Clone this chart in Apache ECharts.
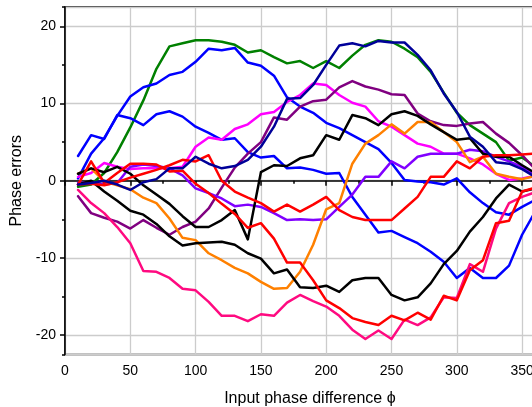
<!DOCTYPE html>
<html>
<head>
<meta charset="utf-8">
<script src="https://cdn.jsdelivr.net/npm/echarts@6/dist/echarts.min.js"></script>
<style>
  html, body { margin: 0; padding: 0; background: #fff; }
  #chart { width: 532px; height: 407px; }
</style>
</head>
<body>
<div id="chart"></div>
<script>
// Input phase difference (degrees), sampled every 10 degrees
const phase = [10, 20, 30, 40, 50, 60, 70, 80, 90, 100, 110, 120, 130, 140, 150, 160, 170, 180,
               190, 200, 210, 220, 230, 240, 250, 260, 270, 280, 290, 300, 310, 320, 330, 340, 350, 360];

// Phase error curves
const greenErr   = [-0.8, -0.5, 1.0, 3.7, 6.9, 10.4, 14.5, 17.4, 17.8, 18.2, 18.2, 18.0, 17.6, 16.6, 16.9, 16.0, 15.2, 15.5, 14.6, 15.5, 14.6, 16.2, 17.6, 18.2, 18.0, 17.1, 16.0, 14.1, 11.4, 8.8, 7.2, 6.1, 5.0, 2.6, 3.0, 1.8];
const blueErrA   = [0.3, 3.5, 5.5, 8.4, 10.9, 12.1, 12.6, 13.7, 14.1, 15.4, 17.1, 16.9, 17.2, 15.3, 14.9, 13.6, 10.8, 9.6, 8.8, 7.5, 6.8, 5.9, 5.0, 4.1, 2.3, 0.1, -0.1, -0.2, -0.5, 0.3, -1.5, -2.9, -4.1, -4.4, -3.4, -2.5];
const blueErrB   = [3.2, 5.9, 5.4, 8.5, 8.1, 7.2, 8.6, 9.0, 8.3, 7.0, 6.2, 5.3, 5.5, 3.7, 3.0, 3.2, 1.6, 1.7, 1.4, 0.9, 1.0, -2.1, -4.4, -6.7, -6.5, -7.3, -8.1, -9.2, -10.5, -12.6, -11.3, -12.6, -12.6, -11.0, -7.0, -4.0];
const navyErr    = [-0.5, -0.3, 0.0, -0.5, -1.2, -0.2, 0.2, 1.6, 1.6, 3.1, 2.2, 1.6, 1.9, 2.7, 4.4, 7.0, 10.6, 10.7, 12.4, 15.0, 17.5, 17.8, 17.4, 18.1, 17.9, 17.9, 16.3, 14.3, 11.3, 8.9, 5.7, 4.4, 2.4, 2.2, 1.5, 0.5];
const magentaErr = [0.5, 1.0, 2.3, 1.8, 1.5, 1.6, 1.6, 1.6, 1.8, 4.4, 5.6, 5.3, 6.7, 7.3, 8.6, 8.9, 10.2, 11.1, 12.6, 12.4, 11.1, 10.1, 9.6, 7.7, 7.0, 5.9, 4.8, 4.4, 3.5, 3.5, 2.9, 2.1, 0.9, 0.1, 0.3, 0.6];
const purpleErr  = [-2.0, -4.2, -4.8, -5.3, -6.2, -5.1, -6.1, -7.0, -6.0, -5.3, -3.6, -0.9, 1.7, 3.5, 5.0, 8.2, 7.9, 9.6, 10.3, 10.5, 12.1, 12.9, 12.2, 11.8, 11.2, 11.1, 8.7, 7.7, 7.2, 7.1, 7.4, 7.6, 6.1, 4.9, 3.3, 1.5];
const violetErr  = [-0.3, -0.2, -0.5, -0.3, 1.8, 2.1, 1.9, 1.6, 0.7, -1.0, -1.6, -2.3, -3.3, -3.1, -3.4, -4.2, -5.1, -5.0, -5.1, -5.0, -3.4, -1.8, 0.5, 0.5, 2.5, 1.6, 3.1, 3.5, 3.5, 3.5, 4.0, 3.8, 3.1, 2.5, 1.8, 0.8];
const orangeErr  = [0.9, 1.6, -0.1, -0.6, -1.1, -2.2, -2.9, -4.9, -7.4, -7.7, -9.4, -10.3, -11.3, -12.0, -13.1, -14.0, -13.9, -11.8, -8.3, -3.7, -2.9, 2.2, 4.8, 5.9, 7.3, 6.1, 7.6, 7.6, 6.3, 5.0, 2.4, 3.1, 0.9, 0.5, 0.2, 0.6];
const blackErrA  = [0.9, 1.6, 1.1, 1.8, 0.9, -0.6, -1.8, -3.0, -4.6, -6.0, -6.0, -5.1, -3.8, -7.6, 1.1, 2.0, 1.9, 2.9, 3.3, 5.9, 5.3, 8.5, 8.1, 7.2, 8.6, 9.0, 8.4, 7.3, 6.3, 5.3, 5.5, 3.5, 3.1, 3.1, 2.0, 1.0];
const blackErrB  = [-0.5, 0.0, -1.4, -2.6, -3.9, -4.4, -5.6, -7.2, -8.4, -8.1, -8.0, -7.9, -8.3, -9.4, -10.1, -12.0, -11.5, -13.8, -13.9, -13.6, -14.4, -12.9, -12.6, -12.6, -14.8, -15.5, -15.1, -13.3, -10.8, -9.1, -6.6, -4.7, -2.3, -0.5, -1.4, -1.0];
const pinkErr    = [-1.2, -2.9, -4.2, -6.0, -8.1, -11.7, -11.8, -12.6, -14.0, -14.2, -15.7, -17.5, -17.5, -18.2, -17.3, -17.5, -15.8, -14.8, -15.6, -16.3, -17.5, -19.3, -20.5, -19.4, -20.5, -18.0, -18.7, -17.7, -15.1, -15.2, -10.8, -11.8, -6.2, -2.9, -2.1, -1.5];
const redErrB    = [-0.5, 2.5, -0.3, 1.0, 2.2, 2.2, 2.1, 1.2, 1.3, -0.4, -1.6, -3.0, -4.3, -6.1, -5.5, -7.5, -10.6, -10.6, -12.9, -15.5, -16.5, -17.8, -18.3, -18.7, -17.5, -18.1, -17.1, -18.0, -14.9, -15.5, -11.6, -10.3, -5.5, -5.2, -1.4, -0.9];
const redErrC    = [-0.5, -0.4, -0.6, -0.2, 0.4, 0.9, 1.4, 2.0, 2.7, 2.5, 3.3, 0.0, -1.4, -2.2, -2.9, -4.0, -3.1, -4.0, -3.1, -2.1, -3.8, -4.7, -5.1, -5.1, -5.1, -3.6, -2.1, 0.5, 0.5, 2.5, 1.6, 3.1, 3.3, 3.3, 3.4, 3.5];

// Drawing order (later entries on top) and colours
const curves = [
  { name: 'green',   data: greenErr,   color: '#008000' },
  { name: 'blueA',   data: blueErrA,   color: '#0000ff' },
  { name: 'blueB',   data: blueErrB,   color: '#0000ff' },
  { name: 'magenta', data: magentaErr, color: '#ff00ff' },
  { name: 'purple',  data: purpleErr,  color: '#800080' },
  { name: 'violet',  data: violetErr,  color: '#8000ff' },
  { name: 'orange',  data: orangeErr,  color: '#ff8000' },
  { name: 'blackA',  data: blackErrA,  color: '#000000' },
  { name: 'blackB',  data: blackErrB,  color: '#000000' },
  { name: 'pink',    data: pinkErr,    color: '#ff0a80' },
  { name: 'redB',    data: redErrB,    color: '#ff0000' },
  { name: 'redC',    data: redErrC,    color: '#ff0000' },
  { name: 'navy',    data: navyErr,    color: '#000099' }
];

const FONT = "'Liberation Sans', Arial, Helvetica, sans-serif";
const Y_MIN = -22.5, Y_MAX = 22.5;

const chart = echarts.init(document.getElementById('chart'), null, { renderer: 'canvas' });

chart.setOption({
  animation: false,
  backgroundColor: '#ffffff',
  textStyle: { fontFamily: FONT },
  grid: {
    left: 65, top: 7, width: 489.75, height: 347.4,
    outerBoundsMode: 'none', containLabel: false,
    show: true, borderColor: '#000', borderWidth: 1.5, backgroundColor: 'transparent'
  },
  xAxis: {
    type: 'value', min: 0, max: 375, interval: 50,
    name: 'Input phase difference \u03d5',
    nameLocation: 'middle', nameGap: 36,
    nameTextStyle: { fontSize: 16, color: '#000', fontFamily: FONT },
    axisLine: { show: true, lineStyle: { color: '#000', width: 1.5 } },
    axisTick: { show: true, inside: false, length: 5, lineStyle: { color: '#000', width: 1.5 } },
    minorTick: { show: true, splitNumber: 2, length: 3, lineStyle: { color: '#000', width: 1.5 } },
    splitLine: { show: true, lineStyle: { color: '#cccccc', width: 1.3 } },
    axisLabel: {
      fontSize: 14, color: '#000', margin: 10, fontFamily: FONT,
      formatter: v => (v % 50 === 0 ? String(v) : '')
    }
  },
  yAxis: [
    {
      // main axis: labels, long ticks, grid lines every 10
      type: 'value', min: Y_MIN, max: Y_MAX, splitNumber: 5,
      name: 'Phase errors',
      nameLocation: 'middle', nameGap: 35,
      nameTextStyle: { fontSize: 16, color: '#000', fontFamily: FONT },
      axisLine: { show: true, lineStyle: { color: '#000', width: 1.5 } },
      axisTick: { show: true, inside: false, length: 5, lineStyle: { color: '#000', width: 1.5 } },
      minorTick: { show: false },
      splitLine: { show: true, lineStyle: { color: '#cccccc', width: 1.3 } },
      axisLabel: {
        fontSize: 14, color: '#000', margin: 9, fontFamily: FONT,
        showMinLabel: false, showMaxLabel: false,
        formatter: v => (v % 10 === 0 ? String(v) : '')
      }
    },
    {
      // companion axis: short ticks every 5
      type: 'value', min: Y_MIN, max: Y_MAX, splitNumber: 9,
      position: 'left', offset: 0,
      axisLine: { show: false },
      axisTick: { show: true, inside: false, length: 3, lineStyle: { color: '#000', width: 1.5 } },
      splitLine: { show: false },
      axisLabel: { show: false }
    }
  ],
  series: curves.map(c => ({
    name: c.name,
    type: 'line',
    yAxisIndex: 0,
    data: phase.map((x, i) => [x, c.data[i]]),
    showSymbol: false,
    symbol: 'none',
    clip: true,
    lineStyle: { color: c.color, width: 2.5, join: 'round', cap: 'round' },
    emphasis: { disabled: true }
  }))
});
</script>
</body>
</html>
